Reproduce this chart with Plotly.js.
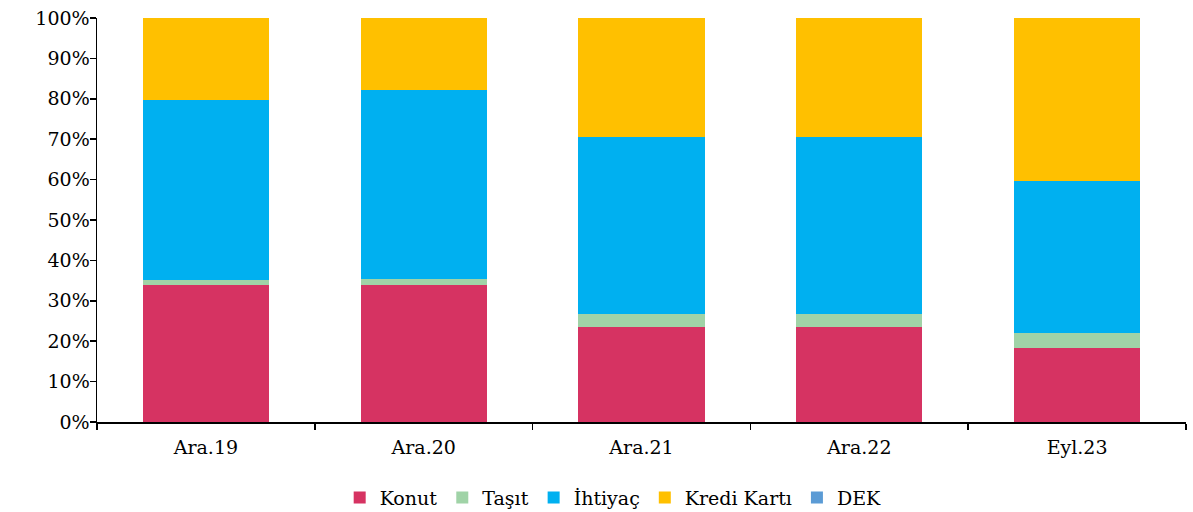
<!DOCTYPE html>
<html><head><meta charset="utf-8">
<script src="https://cdn.plot.ly/plotly-3.0.1.min.js"></script>
<style>html,body{margin:0;padding:0;background:#fff}#chart{width:1193px;height:512px}</style>
</head><body><div id="chart"></div>
<script>
const categories = ["Ara.19", "Ara.20", "Ara.21", "Ara.22", "Eyl.23"];
const konut   = [33.9, 33.8, 23.5, 23.4, 18.4];
const tasit   = [1.3, 1.6, 3.2, 3.3, 3.6];
const ihtiyac = [44.5, 46.8, 43.8, 43.8, 37.7];
const kredi   = [20.3, 17.8, 29.5, 29.5, 40.3];
const dek     = [0, 0, 0, 0, 0];
const yTicks  = [0,10,20,30,40,50,60,70,80,90,100];
const yTickLabels = yTicks.map(v => v + "%");

const series = [
  {name: "Konut", y: konut, color: "#D63362"},
  {name: "Taşıt", y: tasit, color: "#A0D3A7"},
  {name: "İhtiyaç", y: ihtiyac, color: "#00B0F0"},
  {name: "Kredi Kartı", y: kredi, color: "#FFC000"},
  {name: "DEK", y: dek, color: "#5B9BD5"}
];
const data = series.map(s => ({
  type: "bar", x: categories, y: s.y, name: s.name,
  marker: {color: s.color, line: {width: 0}}, hoverinfo: "x+y+name"
}));
const fam = "DejaVu Serif";
const font = {family: fam, size: 19, color: "#000"};
const layout = {
  width: 1193, height: 512,
  margin: {l: 97, r: 7, t: 18, b: 90, autoexpand: false},
  barmode: "stack", bargap: 0.42,
  paper_bgcolor: "#fff", plot_bgcolor: "#fff",
  font: font, showlegend: true,
  legend: {orientation: "h", x: 0.474, xanchor: "center", y: -0.14, yanchor: "top",
           font: {family: fam, size: 19, color: "#000"}, itemwidth: 30, traceorder: "normal"},
  xaxis: {type: "category", showline: true, linecolor: "#000", linewidth: 1.5,
          ticks: "outside", tickson: "boundaries", ticklen: 6, tickcolor: "#000", tickwidth: 1.5,
          showgrid: false, zeroline: false, tickfont: font, automargin: false, ticklabelstandoff: 8},
  yaxis: {range: [0, 100], tickvals: yTicks, ticktext: yTickLabels,
          showline: true, linecolor: "#000", linewidth: 1.5, ticks: "outside", ticklen: 6,
          tickcolor: "#000", tickwidth: 1.5, showgrid: false, zeroline: false, tickfont: font, automargin: false, ticklabelstandoff: -4}
};
Plotly.newPlot("chart", data, layout, {displayModeBar: false, staticPlot: true});
</script></body></html>
